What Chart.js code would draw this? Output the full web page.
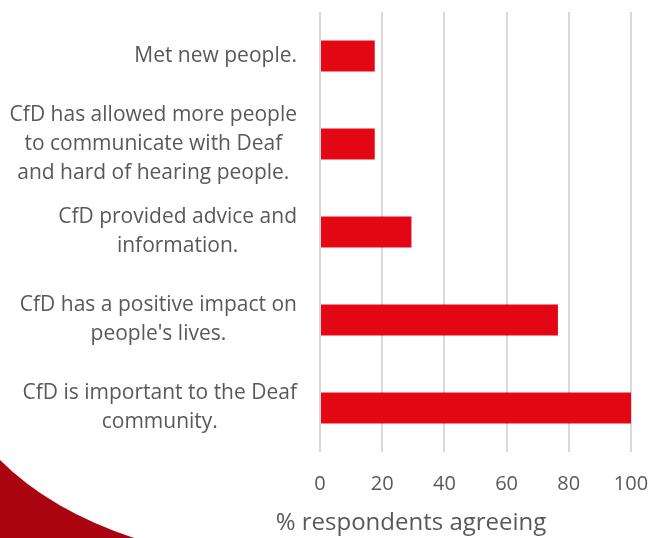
<!DOCTYPE html>
<html>
<head>
<meta charset="utf-8">
<script src="https://cdn.jsdelivr.net/npm/chart.js@4"></script>
<style>
  html, body { margin: 0; padding: 0; background: #fff; }
  #wrap { width: 651px; height: 538px; }
</style>
</head>
<body>
<div id="wrap"><canvas id="barChart"></canvas></div>
<script>
// data
var categories = [
    ["Met new people."],
    ["CfD has allowed more people", "to communicate with Deaf", "and hard of hearing people."],
    ["CfD provided advice and", "information."],
    ["CfD has a positive impact on", "people's lives."],
    ["CfD is important to the Deaf", "community."]
];
var agreeing = [17.6, 17.6, 29.4, 76.5, 100];
var xTicks = [0, 20, 40, 60, 80, 100];

var FONT = "'Open Sans', sans-serif";
var GREY = '#595959';

// red corner + centred category labels + axis title
var decor = {
    id: 'decor',
    beforeDraw: function(chart) {
        var c = chart.ctx;
        c.save();
        c.fillStyle = '#aa0411';
        c.beginPath();
        c.moveTo(0, 460);
        c.quadraticCurveTo(50, 510, 134, 538);
        c.lineTo(0, 538);
        c.closePath();
        c.fill();
        c.restore();
    },
    afterDraw: function(chart) {
        var c = chart.ctx;
        var y = chart.scales.y;
        c.save();
        c.fillStyle = GREY;
        c.font = '21px ' + FONT;
        c.textAlign = 'center';
        c.textBaseline = 'middle';
        var lh = 29;
        categories.forEach(function(lines, i) {
            var w = 0;
            lines.forEach(function(l) { w = Math.max(w, c.measureText(l).width); });
            var cx = 297 - w / 2;
            var cy = y.getPixelForValue(i);
            var top = cy - (lines.length - 1) * lh / 2;
            lines.forEach(function(l, k) { c.fillText(l, cx, top + k * lh); });
        });
        c.font = '24px ' + FONT;
        c.fillText('% respondents agreeing', 411, 523);
        c.restore();
    }
};

var ctx = document.getElementById('barChart').getContext('2d');
var barChart = new Chart(ctx, {
    type: 'bar',
    data: {
        labels: categories,
        datasets: [{
            label: '% respondents agreeing',
            data: agreeing,
            backgroundColor: '#e30613',
            borderWidth: 0,
            barPercentage: 0.35,
            categoryPercentage: 1
        }]
    },
    options: {
        indexAxis: 'y',
        responsive: true,
        maintainAspectRatio: false,
        animation: false,
        layout: { padding: { top: 12, right: 20, left: 0, bottom: 0 } },
        plugins: {
            legend: { display: false },
            tooltip: { enabled: false }
        },
        scales: {
            x: {
                min: 0,
                max: 100,
                afterBuildTicks: function(s) { s.ticks = xTicks.map(function(v) { return { value: v }; }); },
                afterFit: function(s) {
                    s.height = 86;
                    s.paddingLeft = 0;
                    s.paddingRight = 0;
                },
                border: { display: false },
                grid: { color: '#d9d9d9', lineWidth: 2, drawTicks: false },
                ticks: { color: GREY, padding: 20, font: { family: FONT, size: 20 } }
            },
            y: {
                afterFit: function(s) {
                    s.width = 320;
                    s.paddingTop = 0;
                    s.paddingBottom = 0;
                },
                border: { display: false },
                grid: { display: false },
                ticks: { color: 'rgba(0,0,0,0)', font: { size: 1 } }
            }
        }
    },
    plugins: [decor]
});
</script>
</body>
</html>
